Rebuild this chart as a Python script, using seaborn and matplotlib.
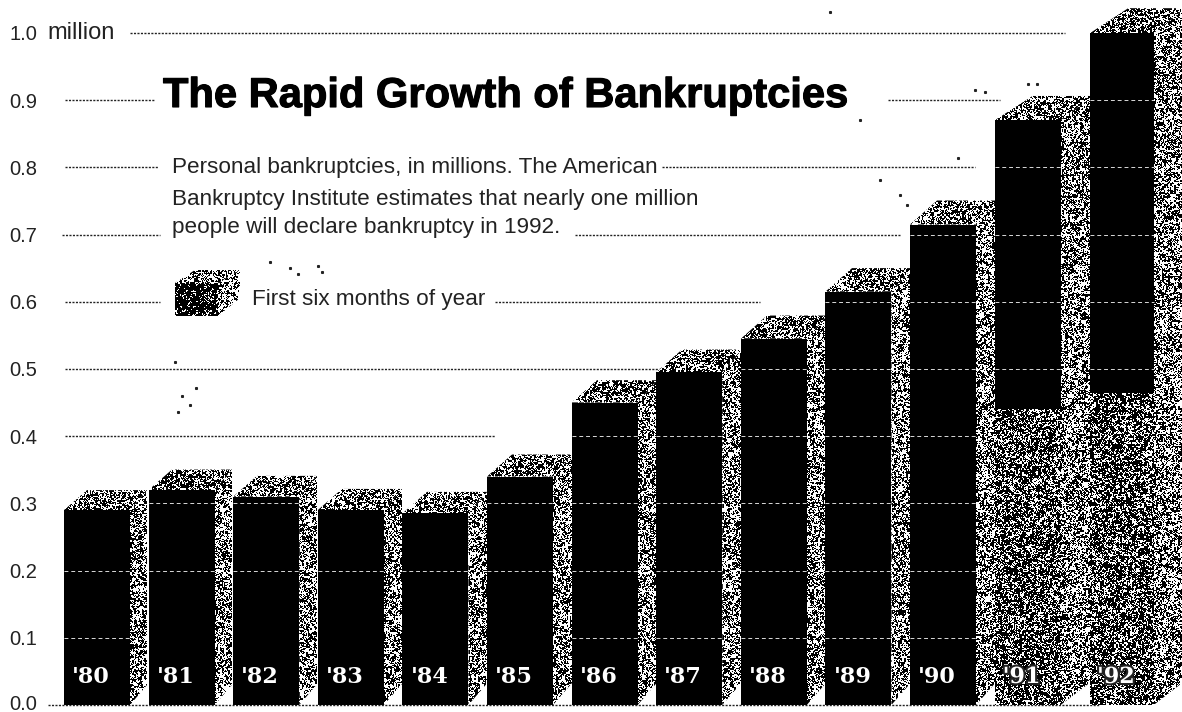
import numpy as np
import pandas as pd
import seaborn as sns
import matplotlib.pyplot as plt
import matplotlib.patheffects as pe
from matplotlib.patches import Polygon
from matplotlib.transforms import Affine2D, ScaledTranslation, blended_transform_factory

# values, in millions
years = ["'80", "'81", "'82", "'83", "'84", "'85", "'86", "'87", "'88", "'89", "'90", "'91", "'92"]
total = [0.29, 0.32, 0.31, 0.29, 0.285, 0.34, 0.45, 0.495, 0.545, 0.615, 0.715, 0.87, 1.0]
first_half_years = ["'91", "'92"]
first_half = [0.44, 0.465]
y_ticks = [0.0, 0.1, 0.2, 0.3, 0.4, 0.5, 0.6, 0.7, 0.8, 0.9, 1.0]
y_labels = ["0.0", "0.1", "0.2", "0.3", "0.4", "0.5", "0.6", "0.7", "0.8", "0.9", "1.0"]

title = "The Rapid Growth of Bankruptcies"
note = ["Personal bankruptcies, in millions. The American",
        "Bankruptcy Institute estimates that nearly one million",
        "people will declare bankruptcy in 1992."]
legend_label = "First six months of year"

# gridline pieces: level, start px, end px
grid_pieces = [(1.0, 130, 1065), (0.9, 65, 155), (0.9, 888, 1000), (0.8, 65, 158), (0.8, 662, 975),
               (0.7, 62, 160), (0.7, 575, 900), (0.6, 65, 160), (0.6, 495, 760),
               (0.5, 65, 700), (0.4, 65, 495), (0.0, 48, 1100)]
# stray print specks in the scan, px
speck_x = [175, 182, 190, 178, 196, 270, 290, 318, 298, 322, 830, 860, 975, 985, 958, 1000, 1028, 1037, 900, 907, 880]
speck_y = [362, 396, 405, 412, 388, 262, 268, 266, 274, 272, 12, 120, 90, 92, 158, 155, 84, 84, 195, 205, 180]

W, H = 1182, 712
sns.set_theme(style="white")
plt.rcParams['font.family'] = ['Liberation Sans', 'DejaVu Sans']

fig = plt.figure(figsize=(W / 100, H / 100), dpi=100)
ax = fig.add_axes([0, 0, 1, 1])
df = pd.DataFrame({'year': years, 'total': total})
half = pd.DataFrame({'year': first_half_years, 'first': first_half})

sns.barplot(df, x='year', y='total', order=years, color='black', saturation=1,
            width=0.78, linewidth=0, ax=ax, zorder=3)
sns.barplot(half, x='year', y='first', order=years, color='white', saturation=1,
            width=0.78, linewidth=0, ax=ax, zorder=4)

# map the axes to image pixels: 0.0 at y=705, 1.0 at y=33
x0, step = 97, 84.6
xlim = (-x0 / step, (W - x0) / step)
ylim = (-(H - 705) / 672, 705 / 672)
ax.set_xlim(*xlim)
ax.set_ylim(*ylim)
sns.despine(ax=ax, left=True, bottom=True, top=True, right=True)
ax.set_xlabel("")
ax.set_ylabel("")
ax.set_xticks([])
ax.set_yticks(y_ticks, y_labels, fontsize=14.5, color='#222222', ha='left')
ax.tick_params(axis='y', length=0, pad=-7)
ax.grid(False)
ax.set_autoscale_on(False)

px = Affine2D().scale(1 / W, -1 / H).translate(0, 1) + fig.transFigure
xpx_ydata = blended_transform_factory(px, ax.transData)

# keep the 0.0 label inside the picture
ylab0 = ax.get_yticklabels()[0]
ylab0.set_transform(ylab0.get_transform() + ScaledTranslation(0, 3 / 100, fig.dpi_scale_trans))
ax.text(47, 33, "million", transform=px, fontsize=17, color='#222222', ha='left', va='center', zorder=6)

# halftone look of the scan: hashed grain, only a texture, not data
gy, gx = np.mgrid[0:H, 0:W]
grain = np.modf(np.sin(gx * 12.9898 + gy * 78.233) * 43758.5453)[0] % 1
coarse = np.modf(np.sin((gx // 2) * 39.346 + (gy // 2) * 11.135) * 24634.6345)[0] % 1
screen = 0.5 * grain + 0.5 * coarse


def stipple(shape, density, z):
    # higher density leaves fewer white pixels
    ax.add_patch(shape)
    im = ax.imshow(screen > density, cmap='gray', vmin=0, vmax=1, interpolation='nearest', aspect='auto',
                   extent=(0, W, H, 0), transform=px, zorder=z)
    im.set_clip_path(shape)


def face(points):
    return Polygon(points, transform=px, facecolor='none', lw=0)


for level, a, b in grid_pieces:
    ax.plot([a, b], [level, level], transform=xpx_ydata, color='#222222', lw=1,
            ls=(0, (1.5, 1)), zorder=1)
ax.plot(speck_x, speck_y, transform=px, ls='none', marker='s', ms=1.2, color='#222222', zorder=1)

# the last bar sits further right than the even spacing
bars = list(ax.containers[0])
low_bars = dict(zip(first_half_years, ax.containers[1]))
lows = dict(zip(first_half_years, first_half))
for bar in (bars[-1], low_bars["'92"]):
    bar.set_x(bar.get_x() + 11 / step)
    bar.set_width(0.75)

to_px = ax.transData + px.inverted()
for i, (bar, name) in enumerate(zip(bars, years)):
    l, t = to_px.transform((bar.get_x(), bar.get_height()))
    r, b = to_px.transform((bar.get_x() + bar.get_width(), 0))
    depth = 17 + 0.4 * i if i < 11 else 32
    rise = 20 + 0.4 * i
    stipple(face([(r, b), (r + depth, b - rise), (r + depth, t - rise), (r, t)]), 0.5, 2)
    stipple(face([(l, t), (l + depth + 6, t - rise), (r + depth, t - rise), (r, t)]), 0.53, 2)
    if name in low_bars:
        lt = to_px.transform((0, lows[name]))[1]
        stipple(face([(l, lt), (r, lt), (r, b), (l, b)]), 0.58, 4.5)
    # white rules over the black part of each bar
    low = lows.get(name, 0)
    for level in y_ticks[1:-1]:
        if level <= low or level > bar.get_height() - 0.01:
            continue
        if level == 0.1 and name in ("'81", "'82", "'83", "'84", "'85"):
            continue
        if level == 0.3 and name in ("'80", "'83", "'84"):
            continue
        ax.plot([l, r], [level, level], transform=xpx_ydata, color='white', lw=0.7,
                ls=(0, (4, 3)), alpha=0.85, zorder=5)
    halo = [pe.withStroke(linewidth=3, foreground='#222222')] if name in low_bars else None
    ax.text((l + r) / 2 - 6, 677, name, transform=px, color='white', fontsize=16, fontweight='bold',
            family=['DejaVu Serif'], ha='center', va='center', zorder=6, path_effects=halo)

ax.text(163, 96, title, transform=px, fontsize=30, fontweight='bold', color='black',
        ha='left', va='center', zorder=6,
        path_effects=[pe.withStroke(linewidth=0.8, foreground='black')])
for line, y in zip(note, [167, 199, 227]):
    ax.text(172, y, line, transform=px, fontsize=16.2, color='#222222', ha='left', va='center', zorder=6)
ax.text(252, 300, legend_label, transform=px, fontsize=16.2, color='#222222', ha='left', va='center', zorder=6)

# legend swatch
stipple(face([(218, 316), (240, 298), (240, 270), (218, 283)]), 0.45, 2)
stipple(face([(175, 283), (195, 270), (240, 270), (218, 283)]), 0.5, 2)
stipple(face([(175, 283), (218, 283), (218, 316), (175, 316)]), 0.72, 2)

ax.set_xlim(*xlim)
ax.set_ylim(*ylim)
fig.savefig('out.png', dpi=100)
